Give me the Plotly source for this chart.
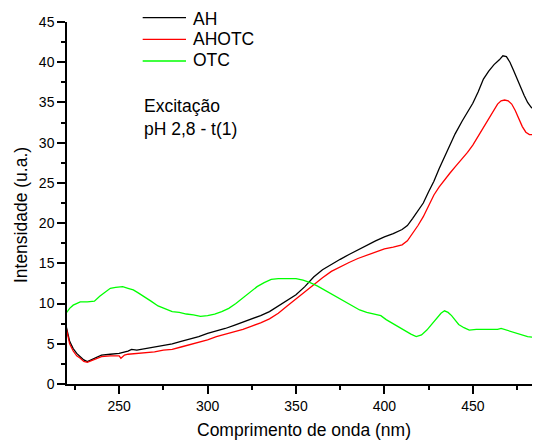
import plotly.graph_objects as go

# ---- data ----
ah_x = [220, 221, 222, 224, 226, 228, 230, 232, 234, 236, 238, 240, 245, 250, 255, 257, 260, 265, 270, 275,
        280, 285, 290, 295, 300, 305, 310, 315, 320, 325, 330, 335, 340, 345, 350, 355, 360, 365, 370, 375,
        380, 385, 390, 395, 400, 405, 410, 413, 416, 419, 422, 425, 428, 431, 434, 437, 440, 444, 447, 450,
        453, 456, 459, 462, 465, 467, 469, 471, 473, 475, 477, 479, 481, 483, 485, 486.5, 488]
ah_y = [7.2, 6.0, 5.3, 4.4, 3.8, 3.4, 3.0, 2.8, 3.0, 3.3, 3.5, 3.6, 3.7, 3.8, 4.1, 4.3, 4.2, 4.4, 4.6, 4.8,
        5.0, 5.3, 5.6, 5.9, 6.3, 6.6, 6.9, 7.3, 7.7, 8.1, 8.5, 9.0, 9.7, 10.4, 11.1, 12.1, 13.3, 14.2, 14.9, 15.5,
        16.1, 16.7, 17.3, 17.8, 18.3, 18.7, 19.2, 19.7, 20.6, 21.5, 22.5, 23.9, 25.2, 26.8, 28.3, 29.8, 31.1, 32.7, 33.8, 34.9,
        36.3, 37.9, 38.9, 39.7, 40.3, 40.8, 40.7, 40.0, 39.0, 37.9, 36.8, 35.9, 35.0, 34.4, 34.1, 34.6, 35.2]

ahotc_x = [220, 221, 222, 224, 226, 228, 230, 232, 234, 236, 238, 240, 245, 250, 251, 253, 255, 260, 265, 270,
           275, 280, 285, 290, 295, 300, 305, 310, 315, 320, 325, 330, 335, 340, 345, 350, 355, 360, 365, 370,
           375, 380, 385, 390, 395, 400, 405, 410, 413, 416, 419, 422, 425, 428, 431, 434, 437, 440, 444, 447,
           450, 453, 456, 459, 462, 464, 466, 468, 470, 472, 474, 476, 478, 480, 482, 484, 486, 488]
ahotc_y = [7.0, 5.8, 5.0, 4.1, 3.5, 3.2, 2.8, 2.7, 2.9, 3.1, 3.3, 3.4, 3.5, 3.5, 3.2, 3.6, 3.7, 3.8, 3.9, 4.0,
           4.2, 4.3, 4.6, 4.9, 5.2, 5.5, 5.9, 6.2, 6.5, 6.8, 7.2, 7.6, 8.1, 8.8, 9.7, 10.6, 11.5, 12.4, 13.2, 14.0,
           14.6, 15.1, 15.6, 16.0, 16.4, 16.8, 17.0, 17.3, 17.8, 18.7, 19.7, 20.8, 22.2, 23.5, 24.5, 25.4, 26.2, 27.0, 28.0, 28.8,
           29.7, 30.8, 31.9, 33.0, 34.1, 34.8, 35.2, 35.3, 35.2, 34.8, 34.0, 32.9, 32.0, 31.3, 31.0, 31.0, 31.6, 32.8]

otc_x = [220, 222, 224, 226, 228, 232, 236, 239, 242, 245, 248, 252, 255, 258, 261, 264, 268, 272, 276, 280,
         284, 288, 292, 296, 300, 304, 308, 312, 316, 320, 324, 328, 332, 336, 340, 345, 350, 354, 358, 362,
         366, 370, 374, 378, 382, 386, 390, 394, 398, 401, 404, 408, 412, 415, 418, 421, 424, 427, 430, 432,
         434, 436, 438, 440, 442, 445, 448, 452, 456, 460, 464, 466, 469, 472, 475, 478, 481, 484, 486, 488]
otc_y = [8.8, 9.4, 9.8, 10.0, 10.2, 10.2, 10.3, 10.9, 11.4, 11.9, 12.0, 12.1, 11.9, 11.7, 11.3, 10.9, 10.3, 9.7, 9.3, 9.0,
         8.9, 8.7, 8.6, 8.4, 8.5, 8.7, 9.0, 9.4, 10.0, 10.7, 11.4, 12.1, 12.6, 13.0, 13.1, 13.1, 13.1, 12.9, 12.6, 12.2,
         11.7, 11.2, 10.7, 10.2, 9.6, 9.2, 8.9, 8.7, 8.5, 8.0, 7.6, 7.1, 6.6, 6.2, 5.9, 6.1, 6.7, 7.5, 8.3, 8.8,
         9.1, 8.9, 8.5, 7.9, 7.4, 7.0, 6.7, 6.8, 6.8, 6.8, 6.8, 6.9, 6.7, 6.5, 6.3, 6.1, 5.9, 5.8, 6.0, 6.0]

series_names = ["AH", "AHOTC", "OTC"]
series_colors = ["#000000", "#FF0000", "#00FF00"]
x_ticks = [250, 300, 350, 400, 450]
y_ticks = [0, 5, 10, 15, 20, 25, 30, 35, 40, 45]
x_title = "Comprimento de onda (nm)"
y_title = "Intensidade (u.a.)"
note_text = "Excitação<br>pH 2,8 - t(1)"

FONT = "Liberation Sans, Arial, sans-serif"
BIG = 17.5

fig = go.Figure()
for name, xs, ys, col in zip(series_names, [ah_x, ahotc_x, otc_x], [ah_y, ahotc_y, otc_y], series_colors):
    fig.add_trace(go.Scatter(x=xs, y=ys, mode="lines", name=name, showlegend=False,
                             line=dict(color=col, width=1.3)))

axis_common = dict(showline=True, linecolor="black", linewidth=1.5, ticks="outside",
                   ticklen=8, tickwidth=1.5, tickcolor="black", showgrid=False, zeroline=False,
                   automargin=False,
                   tickfont=dict(family=FONT, size=14, color="black"))

fig.update_xaxes(range=[220.5, 488], tickvals=x_ticks,
                 minor=dict(ticks="outside", ticklen=4, tickwidth=1.5, tickcolor="black", dtick=25, tick0=225),
                 **axis_common)
fig.update_yaxes(range=[0, 45], tickvals=y_ticks,
                 minor=dict(ticks="outside", ticklen=4, tickwidth=1.5, tickcolor="black", dtick=2.5, tick0=0),
                 **axis_common)

# axis titles placed as paper annotations for exact positioning
fig.add_annotation(xref="paper", yref="paper", x=0.5, y=-0.127, xanchor="center", yanchor="middle",
                   text=x_title, showarrow=False,
                   font=dict(family=FONT, size=BIG, color="black"))
fig.add_annotation(xref="paper", yref="paper", x=-0.097, y=0.467, xanchor="center", yanchor="middle",
                   text=y_title, showarrow=False, textangle=-90,
                   font=dict(family=FONT, size=BIG, color="black"))

fig.add_annotation(xref="paper", yref="paper", x=0.158, y=0.80, xanchor="left", yanchor="top",
                   text=note_text, showarrow=False, align="left",
                   font=dict(family=FONT, size=BIG, color="black"))

# legend (line sample + label) in the top-left of the plot
legend_line_y = [1.0119, 0.9522, 0.8923]
legend_text_y = [1.0077, 0.952, 0.894]
for name, col, ly, ty in zip(series_names, series_colors, legend_line_y, legend_text_y):
    fig.add_shape(type="line", xref="paper", yref="paper", x0=0.160, x1=0.2516, y0=ly, y1=ly,
                  line=dict(color=col, width=1.3))
    fig.add_annotation(xref="paper", yref="paper", x=0.262, y=ty, xanchor="left", yanchor="middle",
                       text=name, showarrow=False, font=dict(family=FONT, size=BIG, color="black"))

# page body has an 8px margin, so the figure is shifted by 8px
fig.update_layout(
    width=532, height=433,
    margin=dict(l=59, r=0, t=14, b=57, autoexpand=False),
    paper_bgcolor="white", plot_bgcolor="white",
    showlegend=False,
)

fig.write_html("out.html")
